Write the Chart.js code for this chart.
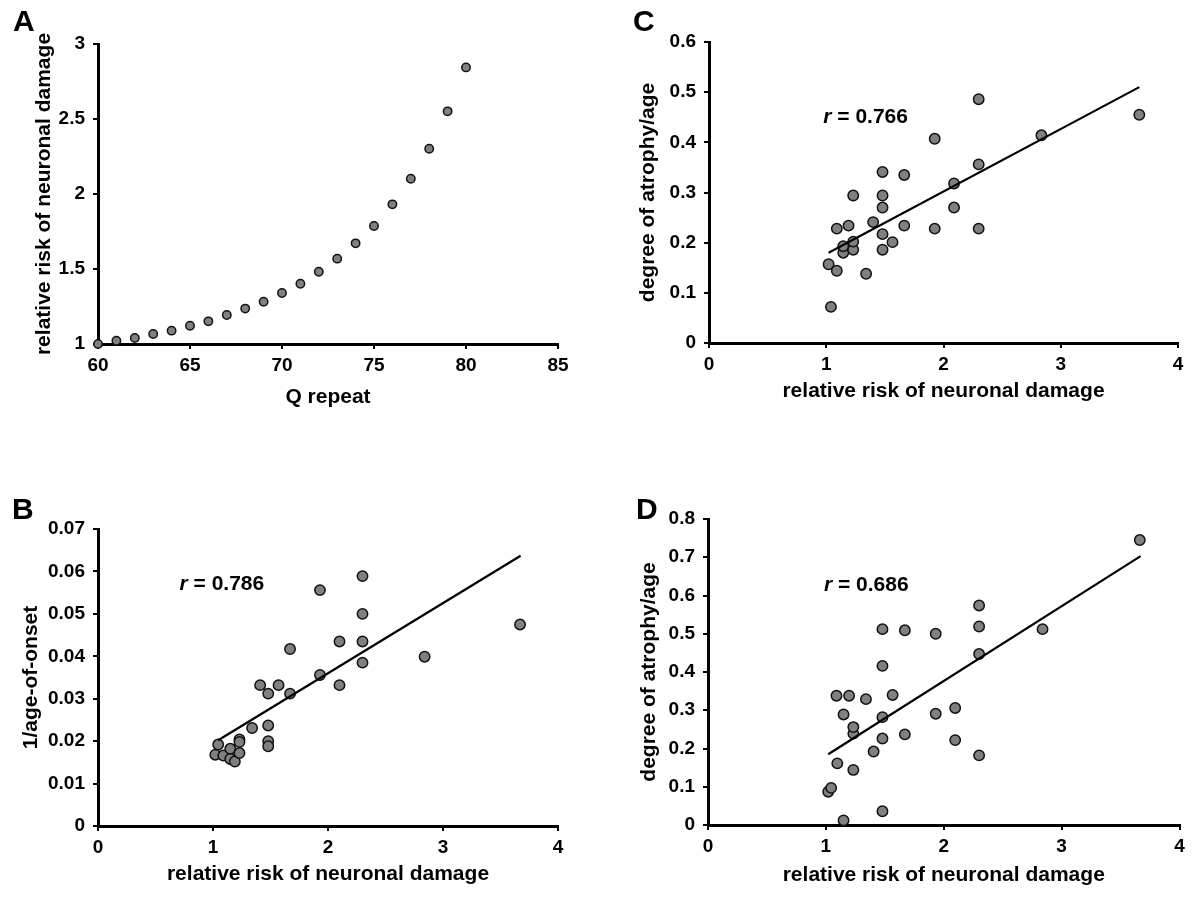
<!DOCTYPE html>
<html>
<head>
<meta charset="utf-8">
<title>Relative risk of neuronal damage</title>
<script src="https://cdn.jsdelivr.net/npm/chart.js@4.4.0/dist/chart.umd.min.js"></script>
<style>
  body { margin: 0; background: #fff; }
  #wrap { position: relative; width: 1200px; height: 900px; }
  #wrap canvas { position: absolute; }
  .letter {
    position: absolute;
    font: bold 30px "Liberation Sans", Arial, sans-serif;
    line-height: 30px;
    color: #000;
  }
</style>
</head>
<body>
<div id="wrap">
  <canvas id="chartA" width="600" height="450" style="left:0px;top:0px"></canvas>
  <canvas id="chartB" width="600" height="450" style="left:0px;top:450px"></canvas>
  <canvas id="chartC" width="600" height="450" style="left:600px;top:0px"></canvas>
  <canvas id="chartD" width="600" height="450" style="left:600px;top:450px"></canvas>
  <div class="letter" style="left:13px;top:6px">A</div>
  <div class="letter" style="left:12px;top:494px">B</div>
  <div class="letter" style="left:633px;top:6px">C</div>
  <div class="letter" style="left:636px;top:494px">D</div>
</div>
<script>
// ---- data ----

// A: Q repeat vs relative risk
var qRepeat = [60, 61, 62, 63, 64, 65, 66, 67, 68, 69, 70, 71, 72, 73, 74, 75, 76, 77, 78, 79, 80];
var riskA = [1.0, 1.022, 1.04, 1.067, 1.089, 1.122, 1.151, 1.193, 1.236, 1.282, 1.34,
             1.402, 1.482, 1.569, 1.671, 1.787, 1.931, 2.102, 2.302, 2.551, 2.844];

// B: relative risk vs 1/age-of-onset
var riskB = [1.02, 1.045, 1.09, 1.15, 1.15, 1.19, 1.23, 1.23, 1.23, 1.34, 1.41, 1.48, 1.48, 1.48,
             1.48, 1.57, 1.67, 1.67, 1.93, 1.93, 2.10, 2.10, 2.30, 2.30, 2.30, 2.30, 2.84, 3.67];
var onsetB = [0.0168, 0.0192, 0.0166, 0.0182, 0.0158, 0.0152, 0.0204, 0.0198, 0.0172, 0.0231,
              0.0332, 0.0312, 0.0237, 0.0200, 0.0188, 0.0332, 0.0417, 0.0312, 0.0556, 0.0356,
              0.0435, 0.0332, 0.0589, 0.0500, 0.0435, 0.0385, 0.0399, 0.0475];
var trendBx = [1.045, 3.675];
var trendBy = [0.0202, 0.0637];

// C: relative risk vs degree of atrophy/age
var riskC = [1.02, 1.04, 1.09, 1.09, 1.145, 1.145, 1.19, 1.23, 1.23, 1.23, 1.34, 1.40, 1.48, 1.48,
             1.48, 1.48, 1.48, 1.565, 1.665, 1.665, 1.925, 1.925, 2.09, 2.09, 2.30, 2.30, 2.30,
             2.835, 3.67];
var atrophyC = [0.157, 0.072, 0.144, 0.228, 0.180, 0.193, 0.234, 0.294, 0.186, 0.202, 0.138,
                0.241, 0.341, 0.294, 0.270, 0.217, 0.186, 0.201, 0.335, 0.234, 0.407, 0.228,
                0.318, 0.270, 0.486, 0.356, 0.228, 0.414, 0.455];
var trendCx = [1.02, 3.67];
var trendCy = [0.180, 0.510];

// D: relative risk vs degree of atrophy/age
var riskD = [1.02, 1.045, 1.09, 1.097, 1.15, 1.15, 1.197, 1.233, 1.233, 1.233, 1.34, 1.405, 1.48,
             1.48, 1.48, 1.48, 1.48, 1.566, 1.67, 1.67, 1.932, 1.932, 2.097, 2.097, 2.30, 2.30,
             2.30, 2.30, 2.838, 3.663];
var atrophyD = [0.087, 0.097, 0.338, 0.161, 0.289, 0.012, 0.338, 0.239, 0.256, 0.144, 0.329,
                0.192, 0.512, 0.416, 0.282, 0.226, 0.036, 0.340, 0.509, 0.237, 0.500, 0.291,
                0.306, 0.222, 0.574, 0.519, 0.447, 0.182, 0.512, 0.745];
var trendDx = [1.02, 3.67];
var trendDy = [0.185, 0.703];

// correlation labels (anchored in data units of each panel)
var rValues = ["0.786", "0.766", "0.686"];
var rAnchorX = [0.709, 0.975, 0.984];
var rAnchorY = [0.0570, 0.4499, 0.627];

// tick values
var ticksAx = [60, 65, 70, 75, 80, 85];
var ticksAy = [1, 1.5, 2, 2.5, 3];
var ticksRisk = [0, 1, 2, 3, 4];
var ticksBy = [0, 0.01, 0.02, 0.03, 0.04, 0.05, 0.06, 0.07];
var ticksCy = [0, 0.1, 0.2, 0.3, 0.4, 0.5, 0.6];
var ticksDy = [0, 0.1, 0.2, 0.3, 0.4, 0.5, 0.6, 0.7, 0.8];

// ---- helpers ----

const FAMILY = "'Liberation Sans', Arial, sans-serif";
const tickFont = { family: FAMILY, size: 19, weight: "bold" };
const titleFont = { family: FAMILY, size: 21, weight: "bold" };

function zip(xs, ys) {
  return xs.map((x, i) => ({ x: x, y: ys[i] }));
}

function fmt(v) {
  return String(Math.round(v * 1000) / 1000);
}

function makeAxis(ticks, title, titlePad, fit, tickPad) {
  return {
    type: "linear",
    min: ticks[0],
    max: ticks[ticks.length - 1],
    afterFit: fit,
    afterBuildTicks: (s) => { s.ticks = ticks.map((v) => ({ value: v })); },
    border: { display: true, color: "#000", width: 3 },
    grid: { display: true, drawOnChartArea: false, drawTicks: true, tickLength: 5, lineWidth: 2, color: "#000" },
    ticks: { color: "#000", font: tickFont, padding: tickPad, callback: fmt, autoSkip: false, maxRotation: 0 },
    title: { display: true, text: title, color: "#000", font: titleFont, padding: titlePad }
  };
}

const rLabel = {
  id: "rLabel",
  afterDatasetsDraw(chart, args, opts) {
    if (!opts || !opts.text) return;
    const ctx = chart.ctx;
    const px = chart.scales.x.getPixelForValue(opts.x);
    const py = chart.scales.y.getPixelForValue(opts.y);
    ctx.save();
    ctx.fillStyle = "#000";
    ctx.textBaseline = "middle";
    ctx.textAlign = "left";
    ctx.font = "italic bold 21px " + FAMILY;
    ctx.fillText("r", px, py);
    const w = ctx.measureText("r").width;
    ctx.font = "bold 21px " + FAMILY;
    ctx.fillText(" = " + opts.text, px + w, py);
    ctx.restore();
  }
};

function makePanel(id, cfg) {
  const datasets = [];
  if (cfg.trend) {
    datasets.push({
      data: cfg.trend,
      showLine: true,
      borderColor: "#000",
      borderWidth: 2.2,
      pointRadius: 0,
      fill: false,
      order: 1
    });
  }
  datasets.push({
    data: cfg.points,
    backgroundColor: "#808080",
    borderColor: "#111",
    borderWidth: 1.5,
    pointRadius: cfg.radius,
    pointHoverRadius: cfg.radius,
    clip: false,
    order: 2
  });

  return new Chart(document.getElementById(id), {
    type: "scatter",
    data: { datasets: datasets },
    options: {
      responsive: false,
      animation: false,
      events: [],
      layout: { padding: cfg.padding },
      plugins: {
        legend: { display: false },
        tooltip: { enabled: false },
        rLabel: cfg.label || {}
      },
      scales: {
        x: makeAxis(cfg.xTicks, cfg.xTitle, { top: 0, bottom: cfg.xTitlePad },
                    (s) => { s.height = cfg.xHeight; }, 5),
        y: makeAxis(cfg.yTicks, cfg.yTitle, { top: cfg.yTitlePad, bottom: 0 },
                    (s) => { s.width = cfg.yWidth; }, 8)
      }
    },
    plugins: [rLabel]
  });
}

// ---- panels ----

makePanel("chartA", {
  points: zip(qRepeat, riskA),
  radius: 4.2,
  xTicks: ticksAx, yTicks: ticksAy,
  xTitle: "Q repeat", yTitle: "relative risk of neuronal damage",
  padding: { left: 0, top: 44, right: 42, bottom: 0 },
  yWidth: 98, xHeight: 106,
  xTitlePad: 39.7, yTitlePad: 31.4
});

makePanel("chartB", {
  points: zip(riskB, onsetB),
  trend: zip(trendBx, trendBy),
  radius: 5.2,
  xTicks: ticksRisk, yTicks: ticksBy,
  xTitle: "relative risk of neuronal damage", yTitle: "1/age-of-onset",
  padding: { left: 0, top: 79, right: 42, bottom: 0 },
  yWidth: 98, xHeight: 74,
  xTitlePad: 13, yTitlePad: 18.5,
  label: { text: rValues[0], x: rAnchorX[0], y: rAnchorY[0] }
});

makePanel("chartC", {
  points: zip(riskC, atrophyC),
  trend: zip(trendCx, trendCy),
  radius: 5.2,
  xTicks: ticksRisk, yTicks: ticksCy,
  xTitle: "relative risk of neuronal damage", yTitle: "degree of atrophy/age",
  padding: { left: 0, top: 42, right: 22, bottom: 0 },
  yWidth: 109, xHeight: 107,
  xTitlePad: 46.4, yTitlePad: 36,
  label: { text: rValues[1], x: rAnchorX[1], y: rAnchorY[1] }
});

makePanel("chartD", {
  points: zip(riskD, atrophyD),
  trend: zip(trendDx, trendDy),
  radius: 5.2,
  xTicks: ticksRisk, yTicks: ticksDy,
  xTitle: "relative risk of neuronal damage", yTitle: "degree of atrophy/age",
  padding: { left: 0, top: 69, right: 20.5, bottom: 0 },
  yWidth: 108, xHeight: 75,
  xTitlePad: 11.7, yTitlePad: 37,
  label: { text: rValues[2], x: rAnchorX[2], y: rAnchorY[2] }
});
</script>
</body>
</html>
